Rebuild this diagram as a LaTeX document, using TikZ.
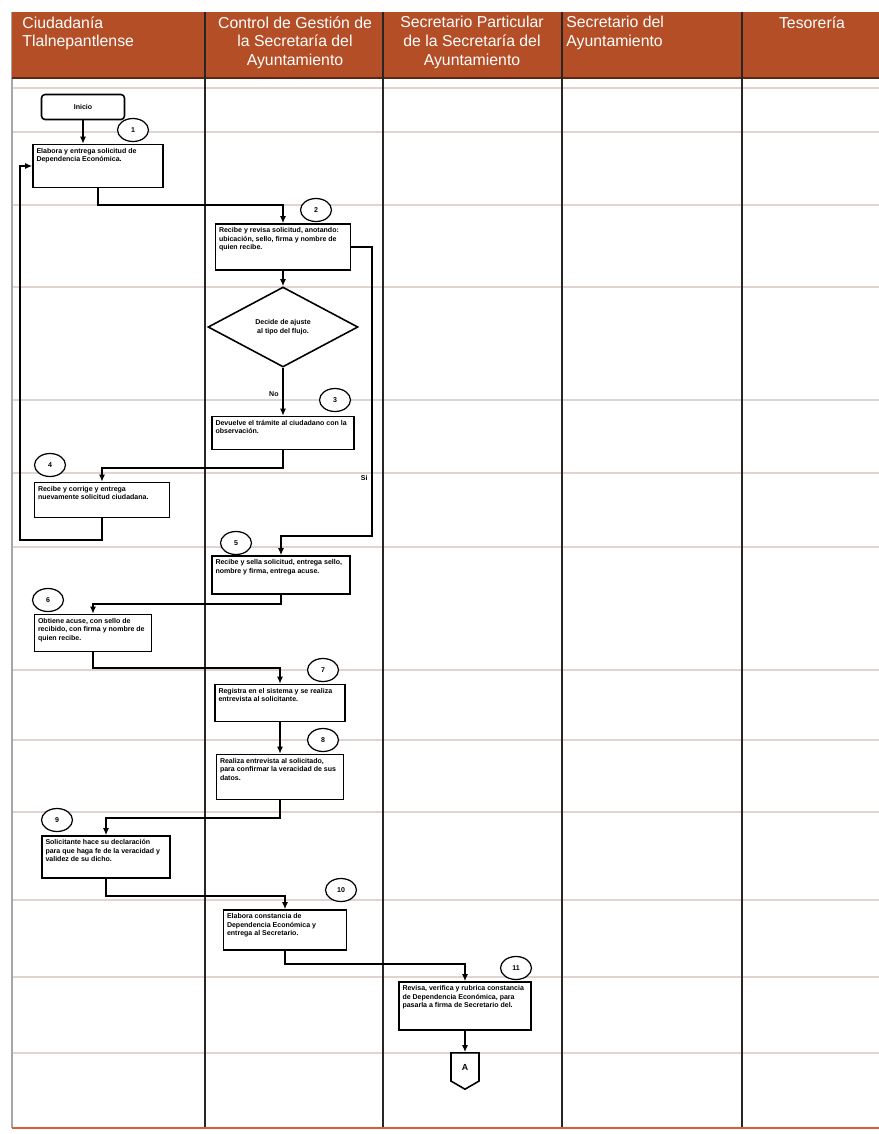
\documentclass[tikz,border=0pt]{standalone}
\usepackage{fontspec}
\setmainfont{Liberation Sans}
\usepackage{xcolor}
\usetikzlibrary{shapes,arrows,positioning,fit,calc,arrows.meta}

\definecolor{lanehead}{RGB}{180,78,38}
\definecolor{laneedge}{RGB}{90,40,20}
\definecolor{rowgray}{RGB}{222,212,208}
\definecolor{footline}{RGB}{215,95,55}

% texto de actividad alineado arriba
\newcommand{\tbox}[3]{\parbox[c][#2][t]{#1}{\raggedright #3}}

\begin{document}
\begin{tikzpicture}[
    x=0.02cm, y=-0.02cm,
    head/.style={font=\fontsize{9}{10.6}\selectfont, text=white, inner sep=0pt, anchor=north},
    task/.style={draw, line width=0.9pt, fill=white, inner sep=0.07cm, font=\fontsize{4}{4.9}\selectfont\bfseries},
    start/.style={task, rounded corners=2pt, minimum width=1.66cm, minimum height=0.5cm},
    decide/.style={draw, line width=0.9pt, fill=white, diamond, aspect=1.9, minimum width=3cm, minimum height=1.6cm, inner sep=0pt, align=center, font=\fontsize{4}{4.9}\selectfont\bfseries},
    num/.style={draw, ellipse, line width=0.7pt, fill=white, minimum width=0.62cm, minimum height=0.46cm, inner sep=0pt, font=\fontsize{4}{4}\selectfont\bfseries},
    offpage/.style={draw, line width=0.9pt, signal, signal to=south, signal pointer angle=120, minimum width=0.56cm, minimum height=0.6cm, inner sep=0pt, font=\fontsize{5}{5}\selectfont\bfseries},
    flow/.style={-{Latex[length=4pt,width=3.5pt]}, line width=1pt},
    lbl/.style={font=\fontsize{4}{4}\selectfont\bfseries, inner sep=2pt},
    lane/.style={line width=1.1pt, black!85},
    rowline/.style={line width=0.6pt, rowgray}
]
\useasboundingbox (0,0) rectangle (879,1134);
\fill[white] (0,0) rectangle (879,1134);

% filas y carriles
\foreach \y in {88,132,205,287,400,473,547,670,740,812,900,977,1053}
    \draw[rowline] (12,\y) -- (879,\y);
\draw[line width=0.6pt, black!35] (12,12) -- (12,1128);
\fill[lanehead] (12,12) rectangle (879,78);
\draw[line width=1.6pt, laneedge] (12,78) -- (879,78);
\foreach \x in {205,383,562,742}
    \draw[lane] (\x,12) -- (\x,1128);
\draw[line width=1.4pt, footline] (12,1128) -- (879,1128);

% encabezados
\node[head, anchor=north west, align=left] (h1) at (22,16) {Ciudadanía\\Tlalnepantlense};
\node[head, align=center] (h2) at (295,16) {Control de Gestión de\\la Secretaría del\\Ayuntamiento};
\node[head, align=center] (h3) at (472,16) {Secretario Particular\\de la Secretaría del\\Ayuntamiento};
\node[head, anchor=north west, align=left] (h4) at (566,16) {Secretario del\\Ayuntamiento};
\node[head, align=center] (h5) at (812,16) {Tesorería};

% actividades
\node[start] (inicio) at (83,107) {Inicio};
\node[task] (t1)  at (98,166)  {\tbox{2.46cm}{0.72cm}{Elabora y entrega solicitud de Dependencia Económica.}};
\node[task] (t2)  at (283,247) {\tbox{2.56cm}{0.78cm}{Recibe y revisa solicitud, anotando: ubicación, sello, firma y nombre de quien recibe.}};
\node[decide] (dec) at (283,327) {Decide de ajuste\\al tipo del flujo.};
\node[task] (t3)  at (283,433) {\tbox{2.70cm}{0.52cm}{Devuelve el trámite al ciudadano con la observación.}};
\node[task] (t4)  at (102,500) {\tbox{2.56cm}{0.56cm}{Recibe y corrige y entrega nuevamente solicitud ciudadana.}};
\node[task] (t5)  at (281,575) {\tbox{2.62cm}{0.62cm}{Recibe y sella solicitud, entrega sello, nombre y firma, entrega acuse.}};
\node[task] (t6)  at (93,633)  {\tbox{2.20cm}{0.60cm}{Obtiene acuse, con sello de recibido, con firma y nombre de quien recibe.}};
\node[task] (t7)  at (280,703) {\tbox{2.46cm}{0.60cm}{Registra en el sistema y se realiza entrevista al solicitante.}};
\node[task] (t8)  at (280,777) {\tbox{2.40cm}{0.76cm}{Realiza entrevista al solicitado, para confirmar la veracidad de sus datos.}};
\node[task] (t9)  at (106,857) {\tbox{2.42cm}{0.70cm}{Solicitante hace su declaración para que haga fe de la veracidad y validez de su dicho.}};
\node[task] (t10) at (285,930) {\tbox{2.32cm}{0.66cm}{Elabora constancia de Dependencia Económica y entrega al Secretario.}};
\node[task] (t11) at (465,1006) {\tbox{2.50cm}{0.82cm}{Revisa, verifica y rubrica constancia de Dependencia Económica, para pasarla a firma de Secretario del.}};
\node[offpage] (conA) at (465,1067) {A};

% numeros de actividad
\node[num] (n1)  at (133,130) {1};
\node[num] (n2)  at (316,210) {2};
\node[num] (n3)  at (335,400) {3};
\node[num] (n4)  at (50,465)  {4};
\node[num] (n5)  at (236,543) {5};
\node[num] (n6)  at (48,600)  {6};
\node[num] (n7)  at (323,670) {7};
\node[num] (n8)  at (323,740) {8};
\node[num] (n9)  at (57,820)  {9};
\node[num] (n10) at (341,890) {10};
\node[num] (n11) at (516,968) {11};

% conexiones
\coordinate (regreso) at (20,540);
\coordinate (si) at (372,536);
\draw[flow] (inicio.south) -- (inicio.south |- t1.north);
\draw[flow] (t1.south) -- ++(0,17) -| (t2.north);
\draw[flow] (t2.south) -- (dec.north);
\draw[flow] (dec.south) -- (t3.north) node[pos=0.55, left, lbl] {No};
\draw[flow] (t3.south) -- ++(0,18) -| (t4.north);
\draw[flow] (t4.south) |- (regreso) |- (t1.west);
\draw[flow] (t2.east) -| (si) node[pos=0.9, left, lbl] {Si} -| (t5.north);
\draw[flow] (t5.south) -- ++(0,9) -| (t6.north);
\draw[flow] (t6.south) -- ++(0,16) -| (t7.north);
\draw[flow] (t7.south) -- (t8.north);
\draw[flow] (t8.south) -- ++(0,18) -| (t9.north);
\draw[flow] (t9.south) -- ++(0,17) -| (t10.north);
\draw[flow] (t10.south) -- ++(0,13) -| (t11.north);
\draw[flow] (t11.south) -- (conA.north);
\end{tikzpicture}
\end{document}
